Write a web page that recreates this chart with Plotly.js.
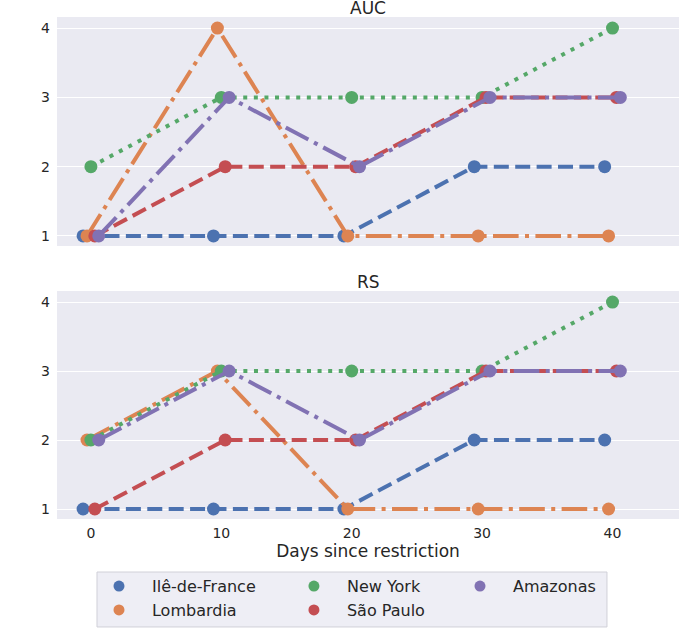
<!DOCTYPE html>
<html>
<head>
<meta charset="utf-8">
<script src="https://cdn.plot.ly/plotly-3.0.1.min.js"></script>
<style>html,body{margin:0;padding:0;background:#fff;}</style>
</head>
<body>
<div id="chart" style="width:694px;height:630px;"></div>
<script>
const days = [0, 10, 20, 30, 40];
const regions = ["Ilê-de-France", "Lombardia", "New York", "São Paulo", "Amazonas"];
const aucIle = [1, 1, 1, 2, 2];
const aucLom = [1, 4, 1, 1, 1];
const aucNY  = [2, 3, 3, 3, 4];
const aucSP  = [1, 2, 2, 3, 3];
const aucAma = [1, 3, 2, 3, 3];
const rsIle = [1, 1, 1, 2, 2];
const rsLom = [2, 3, 1, 1, 1];
const rsNY  = [2, 3, 3, 3, 4];
const rsSP  = [1, 2, 2, 3, 3];
const rsAma = [2, 3, 2, 3, 3];
const yTicks = [1, 2, 3, 4];
const xTicks = [0, 10, 20, 30, 40];

const colors = ["#4C72B0", "#DD8452", "#55A868", "#C44E52", "#8172B3"];
const dashes = ["15px,6.4px", "25.6px,6.4px,4px,6.4px", "4px,6.6px", "15px,6.4px", "25.6px,6.4px,4px,6.4px"];
const dodge = [-0.6, -0.3, 0, 0.3, 0.6];
const aucSeries = [aucIle, aucLom, aucNY, aucSP, aucAma];
const rsSeries = [rsIle, rsLom, rsNY, rsSP, rsAma];

const traces = [];
function addPanel(series, xa, ya) {
  series.forEach((vals, i) => {
    traces.push({
      x: days.map(d => d + dodge[i]), y: vals, xaxis: xa, yaxis: ya,
      mode: "lines+markers", showlegend: false, hoverinfo: "skip",
      line: {color: colors[i], width: 4, dash: dashes[i]},
      marker: {color: colors[i], size: 13, line: {width: 0}}
    });
  });
}
addPanel(aucSeries, "x", "y");
addPanel(rsSeries, "x2", "y2");

const legendOf = ["legend", "legend", "legend2", "legend2", "legend3"];
regions.forEach((name, i) => {
  traces.push({
    x: [null], y: [null], xaxis: "x", yaxis: "y", mode: "markers", name: name,
    legend: legendOf[i], showlegend: true,
    marker: {color: colors[i], size: 11, line: {width: 0}}
  });
});

const font = {family: "DejaVu Sans, sans-serif", color: "#262626"};
const xcommon = {range: [-2.6, 45.1], tickvals: xTicks, showgrid: false, zeroline: false, showline: false, ticks: "", tickfont: {size: 14, ...font}, automargin: false};
const ycommon = {range: [0.855, 4.16], tickvals: yTicks, showgrid: true, gridcolor: "#ffffff", gridwidth: 1, zeroline: false, showline: false, ticks: "", tickfont: {size: 14, ...font}, ticklabelstandoff: 6, automargin: false};
const legCommon = {orientation: "v", bgcolor: "rgba(0,0,0,0)", borderwidth: 0, font: {size: 16, ...font}, yanchor: "top", y: -0.1, xanchor: "left", tracegroupgap: 0, itemclick: false, itemwidth: 56};

const layout = {
  width: 694, height: 630,
  margin: {l: 57, r: 15, t: 17, b: 111, autoexpand: false},
  paper_bgcolor: "#ffffff", plot_bgcolor: "#EAEAF2",
  font: font,
  xaxis: {...xcommon, anchor: "y", showticklabels: false},
  yaxis: {...ycommon, domain: [0.5438, 1], anchor: "x"},
  xaxis2: {...xcommon, anchor: "y2", ticklabelstandoff: 4, title: {text: "Days since restriction", font: {size: 17, ...font}, standoff: 0}},
  yaxis2: {...ycommon, domain: [0, 0.4542], anchor: "x2"},
  legend: {...legCommon, x: 0.0466},
  legend2: {...legCommon, x: 0.360},
  legend3: {...legCommon, x: 0.627},
  shapes: [{type: "rect", xref: "paper", yref: "paper", x0: 0.0643, x1: 0.8842, y0: -0.2151, y1: -0.1056,
            fillcolor: "rgba(234,234,242,0.8)", line: {color: "#d0d0d8", width: 1}, layer: "below"}],
  annotations: [
    {text: "AUC", xref: "paper", yref: "paper", x: 0.5, y: 1, yanchor: "bottom", showarrow: false, font: {size: 17, ...font}, yshift: -3},
    {text: "RS", xref: "paper", yref: "paper", x: 0.5, y: 0.4542, yanchor: "bottom", showarrow: false, font: {size: 17, ...font}, yshift: -3}
  ]
};

Plotly.newPlot("chart", traces, layout, {displayModeBar: false, staticPlot: true});
</script>
</body>
</html>
